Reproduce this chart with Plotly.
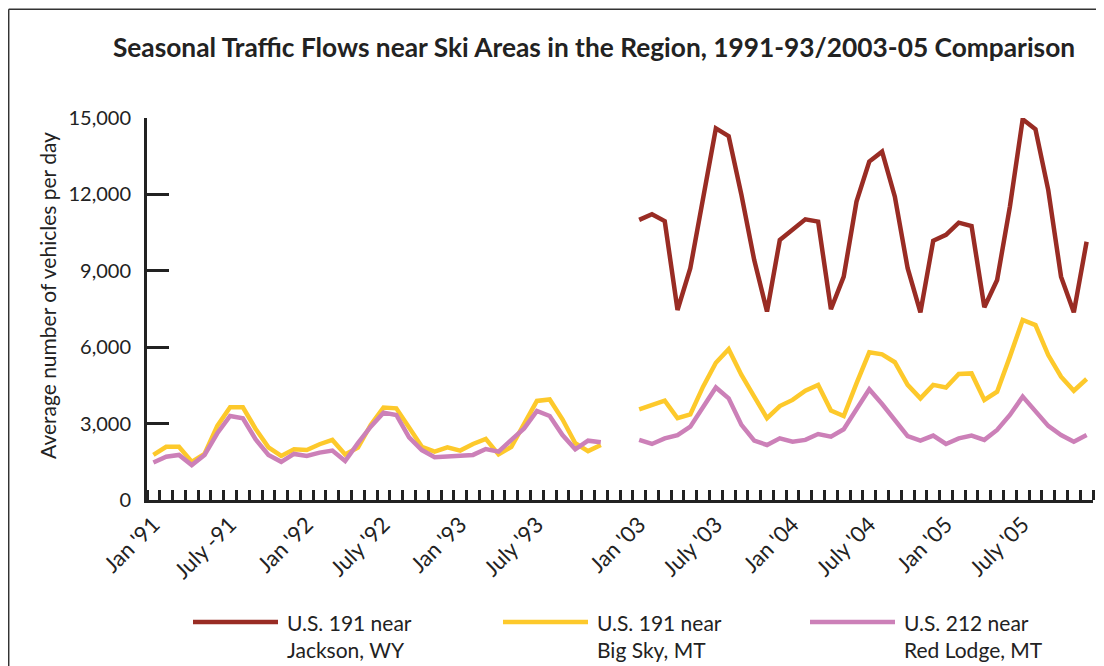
import plotly.graph_objects as go

# monthly averages, Jan-Dec for each year
tick_labels_9193 = ["Jan '91", "July -91", "Jan '92", "July '92", "Jan '93", "July '93"]
tick_labels_0305 = ["Jan '03", "July '03", "Jan '04", "July '04", "Jan '05", "July '05"]

jackson_0305 = [
    11000, 11220, 10950, 7460, 9100, 11780, 14590, 14290, 11980, 9420, 7400, 10210,
    10630, 11020, 10930, 7490, 8770, 11720, 13290, 13680, 11910, 9100, 7370, 10180,
    10410, 10890, 10760, 7570, 8640, 11520, 14950, 14560, 12170, 8770, 7370, 10140,
]
bigsky_9193 = [
    1770, 2090, 2090, 1500, 1810, 2910, 3640, 3640, 2790, 2070, 1730, 1990,
    1960, 2190, 2360, 1790, 2060, 2950, 3630, 3600, 2850, 2090, 1900, 2070,
    1940, 2200, 2400, 1790, 2090, 2980, 3890, 3950, 3170, 2230, 1920, 2160,
]
bigsky_0305 = [
    3560, 3730, 3900, 3210, 3360, 4450, 5390, 5920, 4910, 4060, 3210, 3690,
    3930, 4290, 4520, 3510, 3300, 4580, 5800, 5720, 5410, 4520, 3990, 4520,
    4420, 4950, 4970, 3930, 4250, 5630, 7070, 6870, 5690, 4840, 4290, 4750,
]
redlodge_9193 = [
    1470, 1700, 1770, 1370, 1770, 2620, 3300, 3210, 2380, 1770, 1500, 1810,
    1730, 1860, 1940, 1530, 2230, 2880, 3430, 3340, 2460, 1960, 1680, 1700,
    1730, 1770, 2000, 1900, 2360, 2810, 3500, 3300, 2550, 1990, 2330, 2270,
]
redlodge_0305 = [
    2360, 2200, 2420, 2550, 2880, 3670, 4420, 3990, 2950, 2330, 2160, 2420,
    2290, 2360, 2590, 2490, 2780, 3560, 4350, 3770, 3120, 2510, 2330, 2530,
    2200, 2420, 2530, 2360, 2750, 3340, 4060, 3510, 2910, 2550, 2290, 2550,
]

series_names = ["U.S. 191 near<br>Jackson, WY", "U.S. 191 near<br>Big Sky, MT",
                "U.S. 212 near<br>Red Lodge, MT"]
series_colors = ["#992c24", "#fdc92b", "#cc80b8"]

GAP = 2  # empty months between the two periods
x_9193 = list(range(len(bigsky_9193)))
x_0305 = [len(x_9193) + GAP + i for i in range(len(bigsky_0305))]
n_cat = x_0305[-1] + 1

series = [
    ([], [], x_0305, jackson_0305),
    (x_9193, bigsky_9193, x_0305, bigsky_0305),
    (x_9193, redlodge_9193, x_0305, redlodge_0305),
]

fig = go.Figure()
for (xa, ya, xb, yb), name, color in zip(series, series_names, series_colors):
    xs = list(xa) + ([None] if xa else []) + list(xb)
    ys = list(ya) + ([None] if ya else []) + list(yb)
    fig.add_trace(go.Scatter(x=xs, y=ys, mode="lines", name=name,
                             line=dict(color=color, width=4.5), showlegend=False))

tickvals = x_9193[::6] + x_0305[::6]
ticktext = tick_labels_9193 + tick_labels_0305

# the page body has an 8px margin, so the figure is 8px smaller than the window
OFF = 8
W, H = 1104 - OFF, 666 - OFF
# plot area in figure pixels
L, R, T, B = 147 - OFF, 1093 - OFF, 118 - OFF, 500 - OFF


def px(x):
    return (x - OFF - L) / (R - L)


def py(y):
    return (B - (y - OFF)) / (B - T)


shapes = [
    dict(type="line", xref="paper", yref="paper", x0=px(8.7), x1=px(1104), y0=py(9.2), y1=py(9.2),
         line=dict(color="#333", width=1.5)),
    dict(type="line", xref="paper", yref="paper", x0=px(8.7), x1=px(8.7), y0=py(9.2), y1=py(666),
         line=dict(color="#333", width=1.5)),
]
annotations = [
    dict(xref="paper", yref="paper", x=px(47), y=py(296), textangle=-90, showarrow=False,
         xanchor="center", yanchor="middle", text="Average number of vehicles per day",
         font=dict(size=21, color="#222")),
]
legend_x = [193, 503, 810]
for lx, name, color in zip(legend_x, series_names, series_colors):
    shapes.append(dict(type="line", xref="paper", yref="paper", x0=px(lx), x1=px(lx + 85),
                       y0=py(622), y1=py(622), line=dict(color=color, width=4.5)))
    annotations.append(dict(xref="paper", yref="paper", x=px(lx + 92), y=py(608),
                            xanchor="left", yanchor="top", align="left", showarrow=False,
                            text=name, font=dict(size=21, color="#222")))

fig.update_layout(
    width=W, height=H,
    margin=dict(l=L, r=W - R, t=T, b=H - B, autoexpand=False),
    paper_bgcolor="white", plot_bgcolor="white",
    font=dict(family="Lato, sans-serif", size=20, color="#222"),
    title=dict(text="<b>Seasonal Traffic Flows near Ski Areas in the Region, 1991-93/2003-05 Comparison</b>",
               x=(594 - OFF) / W, xanchor="center", y=1 - (48 - OFF) / H, yanchor="middle",
               font=dict(size=26.3, color="#222")),
    xaxis=dict(range=[-0.5, n_cat - 0.5], tickvals=tickvals, ticktext=ticktext,
               tickangle=-45, ticks="", showline=True, linecolor="#222", linewidth=3,
               showgrid=False, zeroline=False, tickfont=dict(size=22),
               minor=dict(tick0=-0.5, dtick=1, ticks="inside", ticklen=10,
                          tickwidth=2.5, tickcolor="#222", showgrid=False)),
    yaxis=dict(range=[0, 15000], tickvals=list(range(0, 15001, 3000)), tickformat=",",
               ticks="inside", ticklen=22, tickwidth=2.5, tickcolor="#222",
               showline=True, linecolor="#222", linewidth=3, showgrid=False, zeroline=False,
               ticklabelstandoff=9, tickfont=dict(size=20)),
    shapes=shapes,
    annotations=annotations,
)

fig.write_html("out.html")
